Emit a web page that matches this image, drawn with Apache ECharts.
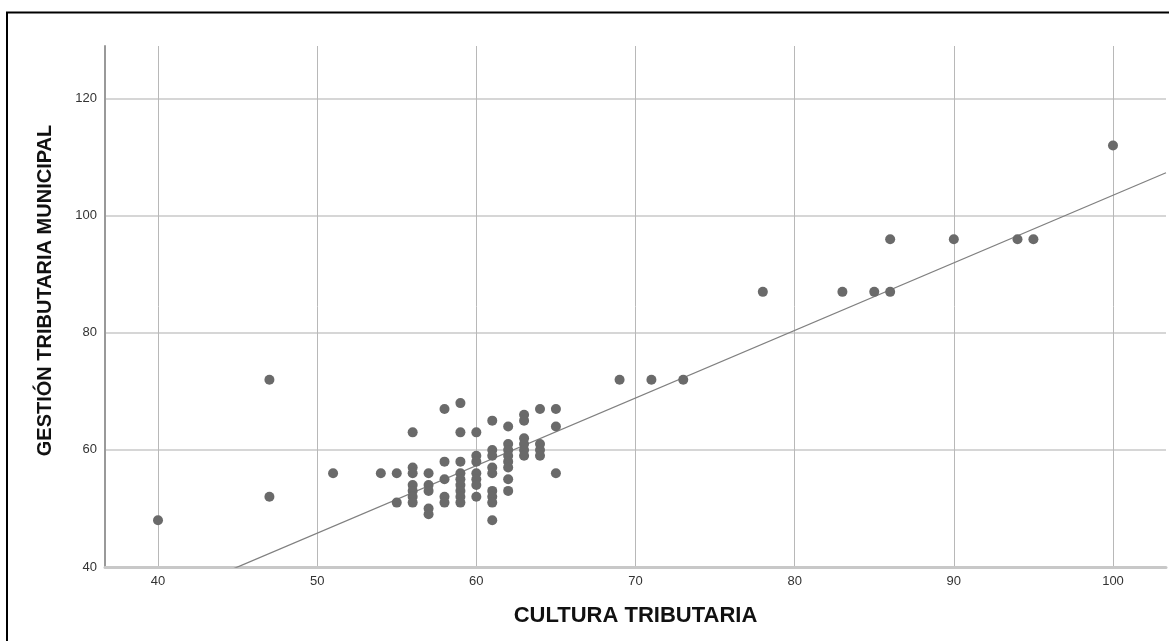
<!DOCTYPE html>
<html>
<head>
<meta charset="utf-8">
<script src="https://cdn.jsdelivr.net/npm/echarts@6/dist/echarts.min.js"></script>
<style>
html,body{margin:0;padding:0;background:#fff;overflow:hidden;}
#chart{width:1169px;height:641px;}
</style>
</head>
<body>
<div id="chart"></div>
<script>
// CULTURA TRIBUTARIA (x) and GESTIÓN TRIBUTARIA MUNICIPAL (y), paired by index
const cultura = [40,47,47,51,
  54,
  55,55,
  56,56,56,56,56,56,56,
  57,57,57,57,57,
  58,58,58,58,58,
  59,59,59,59,59,59,59,59,59,
  60,60,60,60,60,60,60,
  61,61,61,61,61,61,61,61,61,
  62,62,62,62,62,62,62,62,
  63,63,63,63,63,63,
  64,64,64,64,
  65,65,65,
  69,71,73,
  78,83,85,86,86,90,94,95,100];
const gestion = [48,72,52,56,
  56,
  56,51,
  63,57,56,54,53,52,51,
  56,54,53,50,49,
  67,58,55,52,51,
  68,63,58,56,55,54,53,52,51,
  63,59,58,56,55,54,52,
  65,60,59,57,56,53,52,51,48,
  64,61,60,59,58,57,55,53,
  66,65,62,61,60,59,
  67,61,60,59,
  67,64,56,
  72,72,72,
  87,87,87,87,96,96,96,96,112];
// linear fit line: y = intercept + slope * x
const fitIntercept = -11.95;
const fitSlope = 1.1545;
const xRange = [36.67, 103.33];
const yRange = [40, 129];

const points = cultura.map((x, i) => [x, gestion[i]]);
const fitLine = xRange.map(x => [x, fitIntercept + fitSlope * x]);

const chart = echarts.init(document.getElementById('chart'), null, {renderer: 'canvas'});
chart.setOption({
  animation: false,
  backgroundColor: '#ffffff',
  textStyle: {fontFamily: 'Liberation Sans, Arial, sans-serif'},
  grid: {left: 105, right: 3, top: 46, bottom: 74},
  graphic: [{
    type: 'rect', silent: true, z: 100,
    shape: {x: 7, y: 12.5, width: 1300, height: 800},
    style: {fill: 'none', stroke: '#000', lineWidth: 2}
  }],
  xAxis: {
    type: 'value', min: xRange[0], max: xRange[1], splitNumber: 6,
    name: 'CULTURA TRIBUTARIA', nameLocation: 'middle', nameGap: 38,
    nameTextStyle: {fontSize: 22, fontWeight: 'bold', color: '#111', fontFamily: 'Liberation Sans'},
    axisLine: {show: true, lineStyle: {color: '#c8c8c8', width: 3}},
    axisTick: {show: false},
    axisLabel: {showMinLabel: false, showMaxLabel: false, margin: 8, fontSize: 13, color: '#333', fontFamily: 'Liberation Sans'},
    splitLine: {show: true, showMinLine: false, showMaxLine: false, lineStyle: {color: '#b8b8b8', width: 1}}
  },
  yAxis: {
    type: 'value', min: yRange[0], max: yRange[1], interval: 20,
    name: 'GESTIÓN TRIBUTARIA MUNICIPAL', nameLocation: 'middle', nameGap: 50, nameRotate: 90,
    nameTextStyle: {fontSize: 20, fontWeight: 'bold', color: '#111', fontFamily: 'Liberation Sans', padding: [0, 0, 0, 32]},
    axisLine: {show: true, lineStyle: {color: '#999', width: 2}},
    axisTick: {show: false},
    axisLabel: {showMaxLabel: false, margin: 8, fontSize: 13, color: '#333', fontFamily: 'Liberation Sans'},
    splitLine: {show: true, showMaxLine: false, lineStyle: {color: '#d6d6d6', width: 2}}
  },
  series: [
    {
      type: 'line', data: fitLine, showSymbol: false, symbol: 'none', clip: true,
      lineStyle: {color: '#808080', width: 1.3}, z: 2, silent: true
    },
    {
      type: 'scatter', data: points, symbolSize: 10,
      itemStyle: {color: '#6a6a6a', opacity: 1}, z: 3
    }
  ]
});
</script>
</body>
</html>
